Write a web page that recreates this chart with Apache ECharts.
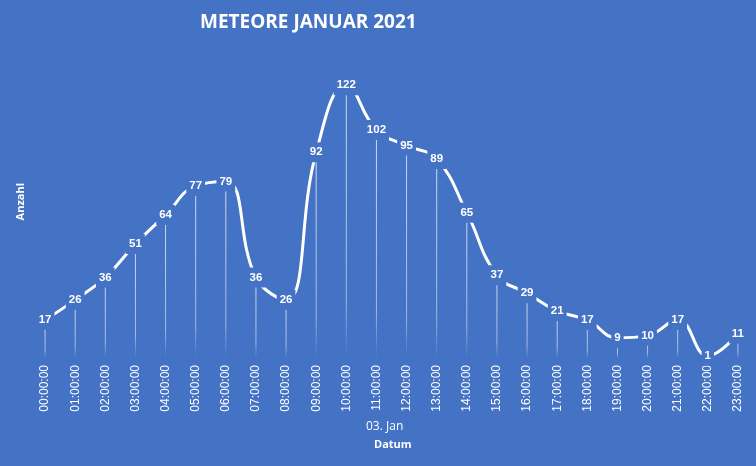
<!DOCTYPE html>
<html>
<head>
<meta charset="utf-8">
<script src="https://cdn.jsdelivr.net/npm/echarts@6/dist/echarts.min.js"></script>
<style>html,body{margin:0;padding:0;background:#4472C4;}#c{width:756px;height:466px;}</style>
</head>
<body>
<div id="c"></div>
<script>
const categories = ["00:00:00","01:00:00","02:00:00","03:00:00","04:00:00","05:00:00","06:00:00","07:00:00","08:00:00","09:00:00","10:00:00","11:00:00","12:00:00","13:00:00","14:00:00","15:00:00","16:00:00","17:00:00","18:00:00","19:00:00","20:00:00","21:00:00","22:00:00","23:00:00"];
const counts = [17,26,36,51,64,77,79,36,26,92,122,102,95,89,65,37,29,21,17,9,10,17,1,11];
const titleText = "METEORE JANUAR 2021";
const dateLabel = "03. Jan";
const xName = "Datum";
const yName = "Anzahl";

const chart = echarts.init(document.getElementById('c'), null, {renderer: 'canvas'});
const bg = '#4472C4';
chart.setOption({
  backgroundColor: bg,
  animation: false,
  title: {
    text: titleText, left: 195, top: 8,
    textStyle: {color: '#fff', fontFamily: 'Open Sans', fontWeight: 'bold', fontSize: 19}
  },
  graphic: [
    {type: 'text', left: 366, top: 421, style: {text: dateLabel, fill: '#fff', font: '12px "Open Sans"'}},
    {type: 'text', left: 374, top: 439, style: {text: xName, fill: '#fff', font: 'bold 11px "Open Sans"'}},
    {type: 'text', left: 15, top: 183, rotation: Math.PI/2, style: {text: yName, fill: '#fff', font: 'bold 11px "Open Sans"'}}
  ],
  grid: {left: 30, right: 3, top: 45, bottom: 108, containLabel: false},
  xAxis: {
    type: 'category', data: categories, boundaryGap: true,
    axisLine: {show: false}, axisTick: {show: false},
    axisLabel: {rotate: 90, color: '#fff', fontFamily: 'Liberation Sans', fontSize: 12, margin: 7, interval: 0}
  },
  yAxis: {type: 'value', min: 0, max: 140, show: false, splitLine: {show: false}},
  series: [
    {
      type: 'bar', data: counts, barWidth: 1, silent: true,
      itemStyle: {color: new echarts.graphic.LinearGradient(0,0,0,1,[
        {offset: 0, color: 'rgba(255,255,255,0.75)'},
        {offset: 0.8, color: 'rgba(255,255,255,0.5)'},
        {offset: 1, color: 'rgba(255,255,255,0)'}])}
    },
    {
      type: 'line', data: counts, smooth: 0.45,
      symbol: 'circle', symbolSize: 1, itemStyle: {color: 'rgba(255,255,255,0)'},
      lineStyle: {color: '#fff', width: 3},
      z: 3,
      label: {
        show: true, position: 'inside', color: '#fff', fontFamily: 'Liberation Sans', fontWeight: 'bold', fontSize: 11.5,
        backgroundColor: bg, padding: [4, 3]
      }
    }
  ]
});
</script>
</body>
</html>
